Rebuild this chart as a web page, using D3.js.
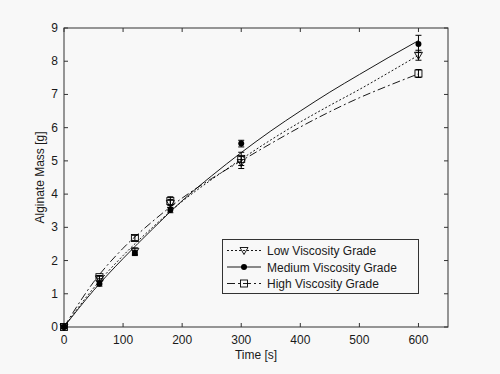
<!DOCTYPE html>
<html>
<head>
<meta charset="utf-8">
<script src="https://cdn.jsdelivr.net/npm/d3@7"></script>
<style>
  html, body { margin: 0; padding: 0; background: #f8f8f8; }
  svg { display: block; font-family: "Liberation Sans", Arial, sans-serif; }
</style>
</head>
<body>
<svg id="chart" width="500" height="374"></svg>
<script>
// Alginate mass vs time, three viscosity grades (fitted curves + measured points).

const SERIES = ['Low Viscosity Grade', 'Medium Viscosity Grade', 'High Viscosity Grade'];
const X_TICKS = [0, 100, 200, 300, 400, 500, 600];
const Y_TICKS = [0, 1, 2, 3, 4, 5, 6, 7, 8, 9];

// measured points
const T_POINTS = [0, 60, 120, 180, 300, 600];
const LOW_MASS = [0, 1.45, 2.28, 3.72, 4.95, 8.18];
const LOW_ERR = [0.05, 0.08, 0.1, 0.12, 0.18, 0.15];
const MED_MASS = [0, 1.3, 2.23, 3.52, 5.52, 8.52];
const MED_ERR = [0.05, 0.07, 0.08, 0.08, 0.1, 0.26];
const HIGH_MASS = [0, 1.5, 2.68, 3.79, 5.06, 7.63];
const HIGH_ERR = [0.05, 0.05, 0.08, 0.13, 0.2, 0.12];

// fitted curves
const T_CURVE = [0, 50, 100, 150, 200, 250, 300, 350, 400, 450, 500, 550, 600];
const LOW_CURVE = [0, 1.17, 2.15, 3.0, 3.78, 4.44, 5.05, 5.63, 6.17, 6.67, 7.15, 7.66, 8.18];
const MED_CURVE = [0, 1.1, 2.06, 2.95, 3.8, 4.55, 5.25, 5.9, 6.5, 7.07, 7.6, 8.12, 8.62];
const HIGH_CURVE = [0, 1.35, 2.37, 3.18, 3.88, 4.47, 5.0, 5.52, 6.02, 6.48, 6.9, 7.27, 7.62];

const INK = '#000';
const TXT = '#1a1a1a';

const svg = d3.select('#chart');
const m = { left: 64, top: 28, right: 52, bottom: 47 };
const W = 500, H = 374;

const x = d3.scaleLinear().domain([0, 650]).range([m.left, W - m.right]);
const y = d3.scaleLinear().domain([0, 9]).range([H - m.bottom, m.top]);

// axes box
svg.append('rect')
  .attr('x', m.left).attr('y', m.top)
  .attr('width', W - m.right - m.left).attr('height', H - m.bottom - m.top)
  .attr('fill', '#f8f8f8').attr('stroke', '#333').attr('stroke-width', 1);

const tl = 4;
const ax = svg.append('g');
X_TICKS.forEach(t => {
  ax.append('line').attr('x1', x(t)).attr('x2', x(t)).attr('y1', y(0)).attr('y2', y(0) - tl).attr('stroke', '#333');
  ax.append('line').attr('x1', x(t)).attr('x2', x(t)).attr('y1', y(9)).attr('y2', y(9) + tl).attr('stroke', '#333');
  ax.append('text').attr('x', x(t)).attr('y', y(0) + 17).attr('text-anchor', 'middle')
    .attr('fill', TXT).style('font-size', '12px').text(t);
});
Y_TICKS.forEach(v => {
  ax.append('line').attr('x1', x(0)).attr('x2', x(0) + tl).attr('y1', y(v)).attr('y2', y(v)).attr('stroke', '#333');
  ax.append('line').attr('x1', x(650)).attr('x2', x(650) - tl).attr('y1', y(v)).attr('y2', y(v)).attr('stroke', '#333');
  ax.append('text').attr('x', x(0) - 6).attr('y', y(v) + 4).attr('text-anchor', 'end')
    .attr('fill', TXT).style('font-size', '12px').text(v);
});

svg.append('text').attr('x', (m.left + W - m.right) / 2).attr('y', 359).attr('text-anchor', 'middle')
  .attr('fill', TXT).style('font-size', '12px').text('Time [s]');
svg.append('text').attr('transform', `translate(44,${(m.top + H - m.bottom) / 2}) rotate(-90)`)
  .attr('text-anchor', 'middle').attr('fill', TXT).style('font-size', '12px').text('Alginate Mass [g]');

const styles = [
  { dash: '2,2', marker: 'tri', curve: LOW_CURVE, mass: LOW_MASS, err: LOW_ERR },
  { dash: null, marker: 'dot', curve: MED_CURVE, mass: MED_MASS, err: MED_ERR },
  { dash: '8,3,2,3', marker: 'sq', curve: HIGH_CURVE, mass: HIGH_MASS, err: HIGH_ERR }
];

const line = d3.line().curve(d3.curveMonotoneX).x(d => x(d[0])).y(d => y(d[1]));

function drawMarker(g, kind, cx, cy) {
  if (kind === 'tri') {
    g.append('path').attr('d', `M${cx - 4},${cy - 3} L${cx + 4},${cy - 3} L${cx},${cy + 4} Z`)
      .attr('fill', 'none').attr('stroke', INK).attr('stroke-width', 0.9);
  } else if (kind === 'sq') {
    g.append('rect').attr('x', cx - 3.5).attr('y', cy - 3.5).attr('width', 7).attr('height', 7)
      .attr('fill', 'none').attr('stroke', INK).attr('stroke-width', 0.9);
  } else {
    g.append('circle').attr('cx', cx).attr('cy', cy).attr('r', 3).attr('fill', INK);
  }
}

const plot = svg.append('g');
styles.forEach(s => {
  plot.append('path').datum(T_CURVE.map((t, i) => [t, s.curve[i]]))
    .attr('fill', 'none').attr('stroke', INK).attr('stroke-width', 0.9)
    .attr('stroke-dasharray', s.dash).attr('d', line);
});
styles.forEach(s => {
  T_POINTS.forEach((t, i) => {
    const cx = x(t), lo = y(s.mass[i] - s.err[i]), hi = y(s.mass[i] + s.err[i]);
    plot.append('line').attr('x1', cx).attr('x2', cx).attr('y1', lo).attr('y2', hi).attr('stroke', INK);
    plot.append('line').attr('x1', cx - 3).attr('x2', cx + 3).attr('y1', lo).attr('y2', lo).attr('stroke', INK);
    plot.append('line').attr('x1', cx - 3).attr('x2', cx + 3).attr('y1', hi).attr('y2', hi).attr('stroke', INK);
    drawMarker(plot, s.marker, cx, y(s.mass[i]));
  });
});

// legend
const lg = svg.append('g');
lg.append('rect').attr('x', 222.5).attr('y', 239.5).attr('width', 196).attr('height', 54)
  .attr('fill', '#f8f8f8').attr('stroke', '#333');
SERIES.forEach((name, i) => {
  const ly = 250.5 + i * 16.5;
  lg.append('line').attr('x1', 227).attr('x2', 261).attr('y1', ly).attr('y2', ly)
    .attr('stroke', INK).attr('stroke-width', 0.9).attr('stroke-dasharray', styles[i].dash);
  drawMarker(lg, styles[i].marker, 244, ly);
  lg.append('text').attr('x', 267).attr('y', ly + 4.5).attr('fill', TXT)
    .style('font-size', '12px').text(name);
});
</script>
</body>
</html>
